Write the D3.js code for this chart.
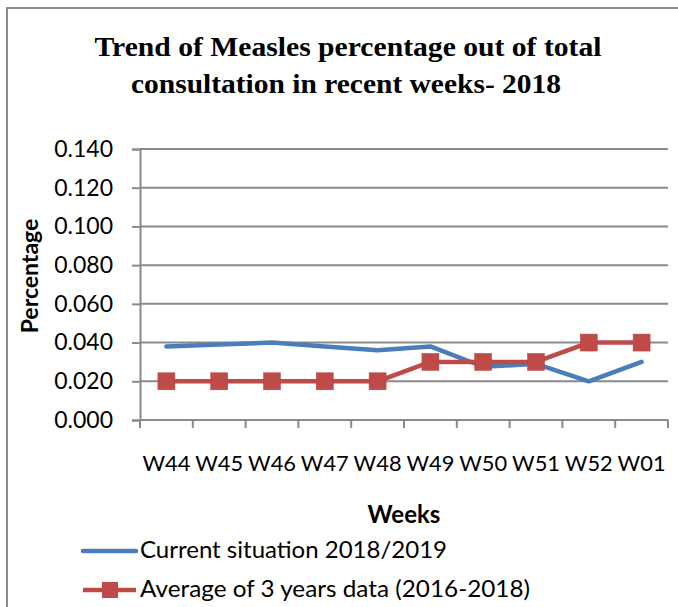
<!DOCTYPE html>
<html><head><meta charset="utf-8">
<script src="https://cdn.jsdelivr.net/npm/d3@7/dist/d3.min.js"></script>
<style>body{margin:0;background:#fff}svg{display:block}</style>
</head><body>
<svg id="c" width="678" height="607"></svg>
<script>
const weeks = ["W44","W45","W46","W47","W48","W49","W50","W51","W52","W01"];
const current = [0.038,0.039,0.040,0.038,0.036,0.038,0.0275,0.029,0.020,0.030];
const average = [0.020,0.020,0.020,0.020,0.020,0.030,0.030,0.030,0.040,0.040];
const yTicks = [0,0.02,0.04,0.06,0.08,0.10,0.12,0.14];
const titleLine1 = "Trend of Measles percentage out of total";
const titleLine2 = "consultation in recent weeks- 2018";
const seriesNames = ["Current situation 2018/2019","Average of 3 years data (2016-2018)"];

const svg = d3.select("#c");
const blue = "#4a7ebb", red = "#be4b48", grid = "#8a8a8a";
const sans = "Lato, 'Open Sans', sans-serif";
const serif = "'Liberation Serif', 'Times New Roman', serif";

// outer frame
svg.append("path").attr("d","M7,620 L7,8 L690,8").attr("fill","none").attr("stroke","#8c8c8c").attr("stroke-width",2);

// title
svg.append("text").attr("x",348).attr("y",56).attr("text-anchor","middle")
  .attr("font-family",serif).attr("font-weight","bold").attr("font-size",28)
  .attr("textLength",507).attr("lengthAdjust","spacingAndGlyphs").text(titleLine1);
svg.append("text").attr("x",346).attr("y",93).attr("text-anchor","middle")
  .attr("font-family",serif).attr("font-weight","bold").attr("font-size",28)
  .attr("textLength",430).attr("lengthAdjust","spacingAndGlyphs").text(titleLine2);

const x = d3.scaleBand().domain(weeks).range([140,668]);
const y = d3.scaleLinear().domain([0,0.14]).range([420,149]);

// gridlines
svg.append("g").selectAll("line").data(yTicks.slice(1)).join("line")
  .attr("x1",140).attr("x2",668).attr("y1",d=>y(d)).attr("y2",d=>y(d))
  .attr("stroke",grid).attr("stroke-width",2);

// y axis
const yAxis = svg.append("g").attr("transform","translate(140,0)")
  .call(d3.axisLeft(y).tickValues(yTicks).tickFormat(d3.format(".3f")).tickSize(8).tickPadding(19));
yAxis.select(".domain").attr("stroke",grid).attr("stroke-width",2);
yAxis.selectAll(".tick line").attr("stroke",grid).attr("stroke-width",2);
yAxis.selectAll("text").attr("font-family",sans).attr("font-size",23).attr("fill","#000");

// x axis
const xTickPos = weeks.map(w=>x(w)).concat([668]);
const xg = svg.append("g");
xg.append("line").attr("x1",140).attr("x2",668).attr("y1",420).attr("y2",420).attr("stroke",grid).attr("stroke-width",2);
xg.selectAll("line.t").data(xTickPos).join("line").attr("class","t")
  .attr("x1",d=>d).attr("x2",d=>d).attr("y1",420).attr("y2",428).attr("stroke",grid).attr("stroke-width",2);
xg.selectAll("text").data(weeks).join("text")
  .attr("x",d=>x(d)+x.bandwidth()/2).attr("y",471).attr("text-anchor","middle")
  .attr("font-family",sans).attr("font-size",22).attr("fill","#000")
  .attr("textLength",48).attr("lengthAdjust","spacingAndGlyphs").text(d=>d);

// axis titles
svg.append("text").attr("x",404).attr("y",523).attr("text-anchor","middle")
  .attr("font-family",sans).attr("font-weight","bold").attr("font-size",24).text("Weeks");
svg.append("text").attr("transform","translate(38,276) rotate(-90)").attr("text-anchor","middle")
  .attr("font-family",sans).attr("font-weight","bold").attr("font-size",23).text("Percentage");

// lines
const line = d3.line().x((d,i)=>x(weeks[i])+x.bandwidth()/2).y(d=>y(d));
svg.append("path").datum(current).attr("d",line).attr("fill","none").attr("stroke",blue).attr("stroke-width",4.5).attr("stroke-linejoin","round").attr("stroke-linecap","round");
svg.append("path").datum(average).attr("d",line).attr("fill","none").attr("stroke",red).attr("stroke-width",4.5).attr("stroke-linejoin","round");
svg.append("g").selectAll("rect").data(average).join("rect")
  .attr("x",(d,i)=>x(weeks[i])+x.bandwidth()/2-8.5).attr("y",d=>y(d)-8.5)
  .attr("width",17).attr("height",17).attr("fill",red).attr("stroke","#b84440").attr("stroke-width",0.5);

// legend
const lg = svg.append("g");
lg.append("line").attr("x1",83).attr("x2",136).attr("y1",551).attr("y2",551).attr("stroke",blue).attr("stroke-width",4.5).attr("stroke-linecap","round");
lg.append("text").attr("x",140).attr("y",558).attr("font-family",sans).attr("font-size",23)
  .attr("textLength",307).attr("lengthAdjust","spacingAndGlyphs").text(seriesNames[0]);
lg.append("line").attr("x1",83).attr("x2",136).attr("y1",590).attr("y2",590).attr("stroke",red).attr("stroke-width",4.5);
lg.append("rect").attr("x",102).attr("y",582).attr("width",16).attr("height",16).attr("fill",red);
lg.append("text").attr("x",140).attr("y",597).attr("font-family",sans).attr("font-size",23)
  .attr("textLength",390).attr("lengthAdjust","spacingAndGlyphs").text(seriesNames[1]);
</script>
</body></html>
